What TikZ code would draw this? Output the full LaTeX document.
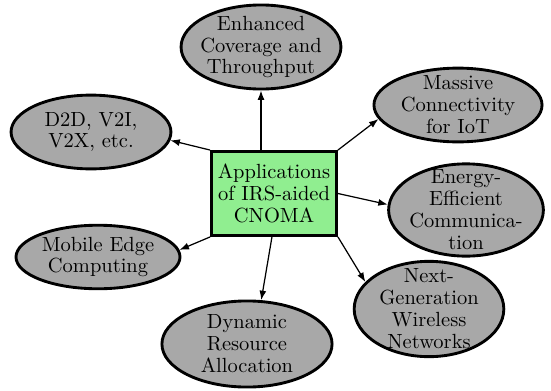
\documentclass[tikz,border=0pt]{standalone}
\usetikzlibrary{shapes.geometric,arrows.meta}
\definecolor{ellgray}{RGB}{168,168,168}
\definecolor{hubgreen}{RGB}{144,238,144}
\begin{document}
\begin{tikzpicture}[x=0.4878pt,y=-0.4878pt,
  app/.style={ellipse, draw, line width=1.4pt, fill=ellgray, inner sep=0pt},
  apptext/.style={align=center, font=\fontsize{10}{10.7}\selectfont},
  hubbox/.style={rectangle, draw, line width=1.4pt, fill=hubgreen, inner sep=0pt,
    align=center, font=\fontsize{10}{10.7}\selectfont},
  conn/.style={line width=0.6pt, -{Latex[length=4.6pt,width=3.4pt]}}]
\path[use as bounding box, fill=white] (0,0) rectangle (551,390);

% central box
\node[hubbox, minimum width=61pt, minimum height=41pt] (hub) at (274,193.5)
  {Applications\\of IRS-aided\\CNOMA};

% application areas
\node[app, minimum width=78pt, minimum height=41pt,
  label={[apptext]center:{Enhanced\\Coverage and\\Throughput}}] (cov) at (261,47) {};
\node[app, minimum width=82pt, minimum height=36pt,
  label={[apptext]center:{Massive\\Connectivity\\for IoT}}] (iot) at (458,105) {};
\node[app, minimum width=78pt, minimum height=36pt,
  label={[apptext]center:{D2D, V2I,\\V2X, etc.}}] (d2d) at (91,132) {};
\node[app, minimum width=75.5pt, minimum height=45pt,
  label={[apptext]center:{Energy-\\Efficient\\Communica-\\tion}}] (eec) at (466,210) {};
\node[app, minimum width=80pt, minimum height=31pt,
  label={[apptext]center:{Mobile Edge\\Computing}}] (mec) at (98,257) {};
\node[app, minimum width=73pt, minimum height=46.5pt,
  label={[apptext]center:{Next-\\Generation\\Wireless\\Networks}}] (ngw) at (429,309) {};
\node[app, minimum width=83pt, minimum height=42pt,
  label={[apptext]center:{Dynamic\\Resource\\Allocation}}] (dra) at (247,344) {};

% connectors
\draw[conn] (hub.north -| cov) -- (cov.south);
\draw[conn] (hub.north east) -- (iot.190);
\draw[conn] (hub.north west) -- (d2d.-6);
\draw[conn] (hub.east) -- (eec.176);
\draw[conn] (hub.south west) -- (mec.5);
\draw[conn] (hub.south east) -- (ngw.157);
\draw[conn] ([xshift=-1pt]hub.south) -- (dra.72);
\end{tikzpicture}
\end{document}
